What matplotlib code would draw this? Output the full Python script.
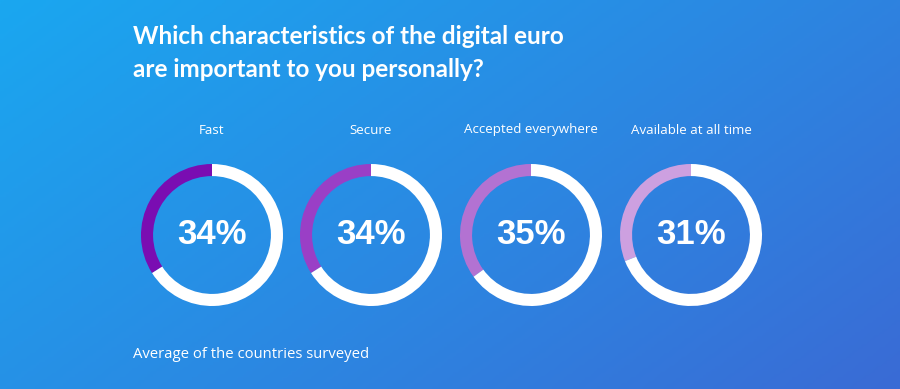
import matplotlib.pyplot as plt
import numpy as np
from matplotlib.colors import LinearSegmentedColormap

# data
labels = ['Fast', 'Secure', 'Accepted everywhere', 'Available at all time']
values = [34, 34, 35, 31]
colors = ['#7a0db2', '#9a3fc6', '#b372d2', '#cda0e0']

title = 'Which characteristics of the digital euro\nare important to you personally?'
footer = 'Average of the countries surveyed'

W, H = 900, 389
fig = plt.figure(figsize=(W / 100, H / 100), dpi=100)

# gradient background
bg = fig.add_axes([0, 0, 1, 1])
bg.set_xlim(0, W)
bg.set_ylim(H, 0)
bg.axis('off')
xx, yy = np.meshgrid(np.linspace(0, 1, 300), np.linspace(0, 1, 130))
grad = (xx * 0.75 + yy * 0.45) / 1.2
cmap = LinearSegmentedColormap.from_list('bg', ['#1aa7f0', '#2a8ae3', '#3a6bd5'])
bg.imshow(grad, cmap=cmap, extent=[0, W, H, 0], aspect='auto', zorder=0)

bg.text(133, 53, title, color='white', fontsize=17.5, fontweight='bold',
        family='Lato', va='center', ha='left', linespacing=1.5)
bg.text(133, 355, footer, color='white', fontsize=10.7, family='Open Sans',
        va='center', ha='left')

centers = [212, 371, 531, 691]
cy = 235
r = 71
for cx, lab, v, c in zip(centers, labels, values, colors):
    bg.text(cx, 130, lab, color='white', fontsize=9.6, family='Open Sans',
            ha='center', va='center')
    ax = fig.add_axes([(cx - r) / W, 1 - (cy + r) / H, 2 * r / W, 2 * r / H])
    ax.pie([v, 100 - v], colors=[c, 'white'], startangle=90, counterclock=True,
           wedgeprops=dict(width=0.17, linewidth=0))
    ax.set_xlim(-1, 1)
    ax.set_ylim(-1, 1)
    ax.text(0, 0, f'{v}%', color='white', fontsize=25, fontweight='bold',
            family='Liberation Sans', ha='center', va='center')

fig.savefig('out.png', dpi=100)
